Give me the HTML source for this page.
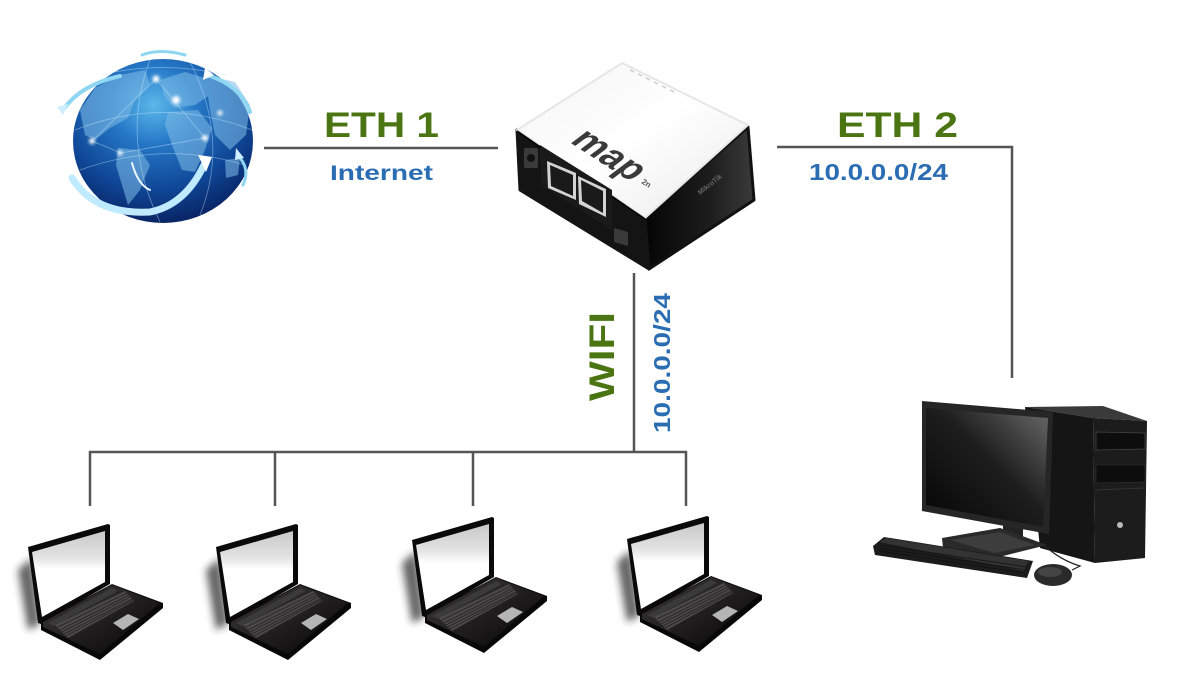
<!DOCTYPE html>
<html><head><meta charset="utf-8"><style>
html,body{margin:0;padding:0;background:#fff;}
svg{display:block;}
text{font-family:"Liberation Sans",Arial,sans-serif;font-weight:bold;}
</style></head><body>
<svg width="1200" height="675" viewBox="0 0 1200 675" xmlns="http://www.w3.org/2000/svg">
<defs>
  <radialGradient id="globeG" cx="0.45" cy="0.28" r="0.8">
    <stop offset="0" stop-color="#5cb8ea"/>
    <stop offset="0.3" stop-color="#2577c6"/>
    <stop offset="0.65" stop-color="#0f4696"/>
    <stop offset="1" stop-color="#061852"/>
  </radialGradient>
  <linearGradient id="topFace" x1="0" y1="0" x2="1" y2="1">
    <stop offset="0" stop-color="#f4f4f4"/>
    <stop offset="0.5" stop-color="#ffffff"/>
    <stop offset="1" stop-color="#e9e9e9"/>
  </linearGradient>
  <linearGradient id="rightFace" x1="0" y1="0" x2="1" y2="0">
    <stop offset="0" stop-color="#050505"/>
    <stop offset="0.6" stop-color="#1d1d1d"/>
    <stop offset="1" stop-color="#3a3a3a"/>
  </linearGradient>
  <linearGradient id="screenG" x1="0" y1="1" x2="1" y2="0">
    <stop offset="0" stop-color="#050505"/>
    <stop offset="0.55" stop-color="#1e1e1e"/>
    <stop offset="1" stop-color="#6a6a6a"/>
  </linearGradient>
  <linearGradient id="lapScreen" x1="0" y1="0" x2="0" y2="1">
    <stop offset="0" stop-color="#c8c8c8"/>
    <stop offset="0.3" stop-color="#e2e2e2"/>
    <stop offset="0.45" stop-color="#ffffff"/>
    <stop offset="1" stop-color="#ffffff"/>
  </linearGradient>
  <linearGradient id="lapBase" x1="0" y1="0" x2="1" y2="1">
    <stop offset="0" stop-color="#3c3a3a"/>
    <stop offset="0.55" stop-color="#1e1c1c"/>
    <stop offset="1" stop-color="#050505"/>
  </linearGradient>
  <filter id="blur4" x="-50%" y="-50%" width="200%" height="200%"><feGaussianBlur stdDeviation="4"/></filter>
  <filter id="blur2" x="-50%" y="-50%" width="200%" height="200%"><feGaussianBlur stdDeviation="1.5"/></filter>
  <g id="laptop">
    <polygon points="-10,20 4,8 12,74 0,80" fill="#222" opacity="0.7" filter="url(#blur4)"/>
    <polygon points="0,-3 80,-26 82,-25 82,34 13,74 10,73" fill="#0a0a0a"/>
    <polygon points="4,2 77,-19 77,32 14,67" fill="url(#lapScreen)"/>
    <polygon points="13,72 84,34 135,53 135,58 72,110 13,80" fill="#080808"/>
    <polygon points="15,72 84,35 132,53 72,104 15,77" fill="url(#lapBase)"/>
    <polygon points="20,73 84,38 90,41 26,76" fill="#3a3a3a"/>
    <polygon points="27,75 97,41 106,51 40,88" fill="#4a4848"/>
    <g stroke="#222" stroke-width="0.8">
      <line x1="30" y1="77" x2="99" y2="43"/>
      <line x1="32" y1="80" x2="101" y2="45"/>
      <line x1="34" y1="82" x2="102" y2="47"/>
      <line x1="36" y1="84" x2="104" y2="49"/>
      <line x1="38" y1="86" x2="105" y2="50"/>
    </g>
    <polygon points="85,73 100,64 111,69 95,80" fill="#b5b5b5"/>
  </g>
</defs>

<!-- connectors -->
<g stroke="#555" stroke-width="2.5" fill="none">
  <line x1="264" y1="148" x2="498" y2="148"/>
  <polyline points="777,147 1012,147 1012,378"/>
  <line x1="634" y1="273" x2="634" y2="452"/>
  <line x1="89" y1="452" x2="687" y2="452"/>
  <line x1="90" y1="451" x2="90" y2="506"/>
  <line x1="275" y1="451" x2="275" y2="506"/>
  <line x1="473" y1="451" x2="473" y2="506"/>
  <line x1="686" y1="451" x2="686" y2="506"/>
</g>

<!-- labels -->
<text x="324" y="137" font-size="35" fill="#4a7512" textLength="115" lengthAdjust="spacingAndGlyphs">ETH 1</text>
<text x="330" y="180" font-size="21" fill="#2a6db2" textLength="103" lengthAdjust="spacingAndGlyphs">Internet</text>
<text x="837" y="137" font-size="35" fill="#4a7512" textLength="121" lengthAdjust="spacingAndGlyphs">ETH 2</text>
<text x="809" y="180" font-size="23" fill="#2a6db2" textLength="139" lengthAdjust="spacingAndGlyphs">10.0.0.0/24</text>
<text transform="translate(614,401) rotate(-90)" font-size="35" fill="#4a7512" textLength="89" lengthAdjust="spacingAndGlyphs">WIFI</text>
<text transform="translate(670,433) rotate(-90)" font-size="23" fill="#2a6db2" textLength="140" lengthAdjust="spacingAndGlyphs">10.0.0.0/24</text>

<!-- globe -->
<g>
  <ellipse cx="163" cy="141" rx="90" ry="82" fill="url(#globeG)"/>
  <g fill="#7fbde8" opacity="0.55">
    <path d="M80,110 L95,88 L120,75 L145,70 L150,85 L135,100 L128,118 L110,128 L95,140 L85,135 Z"/>
    <path d="M118,148 L140,150 L150,165 L140,190 L128,205 L122,185 L116,165 Z"/>
    <path d="M160,80 L185,72 L205,78 L210,95 L195,105 L175,108 L165,98 Z"/>
    <path d="M168,112 L198,110 L212,128 L205,150 L195,172 L182,170 L172,145 L165,125 Z"/>
    <path d="M205,75 L235,82 L250,105 L246,135 L230,150 L215,135 L210,110 Z"/>
    <path d="M225,160 L240,158 L238,175 L226,178 Z"/>
  </g>
  <g fill="none" stroke="#cfefff" stroke-width="0.8" opacity="0.45">
    <path d="M75,130 Q163,95 252,130"/>
    <path d="M80,170 Q163,140 245,165"/>
    <path d="M100,75 Q163,60 225,75"/>
    <path d="M150,60 Q120,140 160,222"/>
    <path d="M190,62 Q230,140 200,215"/>
    <path d="M92,141 L156,79 L205,138 L121,153 Z"/>
  </g>
  <g fill="#fff">
    <circle cx="156" cy="79" r="3.5" filter="url(#blur2)"/>
    <circle cx="176" cy="100" r="4" filter="url(#blur2)"/>
    <circle cx="92" cy="141" r="3" filter="url(#blur2)"/>
    <circle cx="205" cy="138" r="3" filter="url(#blur2)"/>
    <circle cx="120" cy="153" r="2.5" filter="url(#blur2)"/>
    <circle cx="220" cy="113" r="2.5" filter="url(#blur2)"/>
  </g>
  <g fill="none" stroke="#8fd6f2" stroke-linecap="round">
    <path d="M185,55 Q160,48 142,55" stroke-width="3"/>
    <path d="M120,76 Q80,85 63,110" stroke-width="4"/>
    <path d="M207,75 Q240,85 250,112" stroke-width="4"/>
    <path d="M240,158 Q250,170 243,185" stroke-width="3"/>
    <path d="M72,178 Q95,215 150,212 Q185,205 204,165" stroke="#bfeaff" stroke-width="7"/>
    <path d="M132,163 Q138,185 150,190" stroke="#e8f7ff" stroke-width="2"/>
  </g>
  <polygon points="198,155 212,157 206,172" fill="#fff"/>
  <polygon points="57,107 68,104 63,115" fill="#cfeeff"/>
  <polygon points="205,68 214,75 203,80" fill="#fff"/>
  <polygon points="236,148 244,158 235,160" fill="#cfeeff"/>
</g>

<!-- router -->
<g stroke-linejoin="round">
  <polygon points="645,218 748,127 754,200 649,269" fill="url(#rightFace)" stroke="#111" stroke-width="3"/>
  <polygon points="517,130 645,218 649,269 520,190" fill="#141414" stroke="#141414" stroke-width="3"/>
  <polygon points="517,130 622,63 748,125 645,218" fill="url(#topFace)" stroke="#e6e6e6" stroke-width="2"/>
  <polygon points="517,130 645,218 648,222 518,133" fill="#000"/>
  <polygon points="540,145 612,190 612,230 542,186" fill="#1a1a1a"/>
  <rect x="524" y="148" width="14" height="20" rx="2" fill="#3a3a3a"/>
  <circle cx="531" cy="158" r="4" fill="#111"/>
  <polygon points="547,161 576,173 576,200 548,188" fill="#d4d4d4"/>
  <polygon points="550,165 573,175 573,196 551,186" fill="#1a1a1a"/>
  <polygon points="578,176 606,189 606,217 579,204" fill="#d4d4d4"/>
  <polygon points="581,180 603,191 603,213 582,201" fill="#1a1a1a"/>
  <polygon points="614,228 628,232 628,246 614,242" fill="#3a3a3a"/>
  <text transform="translate(600,162) rotate(33) skewX(-20)" font-size="36" fill="#3a3a3a" text-anchor="middle">map</text>
  <text transform="translate(641,183) rotate(33)" font-size="8" fill="#555">2n</text>
  <text transform="translate(700,195) rotate(-38)" font-size="7" fill="#666">MikroTik</text>
  <g stroke="#ccc" stroke-width="1.5">
    <line x1="630" y1="70" x2="634" y2="72"/><line x1="638" y1="74" x2="642" y2="76"/>
    <line x1="646" y1="78" x2="650" y2="80"/><line x1="654" y1="82" x2="658" y2="84"/>
    <line x1="662" y1="86" x2="666" y2="88"/><line x1="670" y1="90" x2="674" y2="92"/>
  </g>
</g>

<!-- PC -->
<g>
  <polygon points="1025,407 1103,406 1147,421 1093,418" fill="#3a3a3a"/>
  <polygon points="1025,407 1093,418 1095,563 1040,548" fill="#151515"/>
  <polygon points="1093,418 1147,421 1145,558 1095,563" fill="#1c1c1c"/>
  <polygon points="1096,432 1145,433 1145,449 1096,450" fill="#0d0d0d" stroke="#444" stroke-width="0.8"/>
  <polygon points="1096,465 1145,465 1145,482 1096,483" fill="#0d0d0d" stroke="#333" stroke-width="0.6"/>
  <line x1="1095" y1="490" x2="1145" y2="488" stroke="#333" stroke-width="1"/>
  <circle cx="1120" cy="525" r="3" fill="#bbb"/>
  <polygon points="1003,525 1023,527 1023,540 1003,538" fill="#222"/>
  <polygon points="942,538 1000,528 1047,545 995,558 943,548" fill="#2a2a2a"/>
  <polygon points="950,540 1000,532 1035,545 995,553" fill="#3d3d3d"/>
  <polygon points="922,401 1053,412 1049,534 922,511" fill="#262626"/>
  <polygon points="926,408 1048,418 1043,527 926,505" fill="url(#screenG)"/>
  <polygon points="873,546 884,537 1033,561 1027,578 875,555" fill="#1c1c1c"/>
  <polygon points="880,542 886,538 1028,561 1024,571" fill="#333"/>
  <g stroke="#111" stroke-width="0.7">
    <line x1="880" y1="545" x2="1027" y2="567"/>
    <line x1="880" y1="548" x2="1026" y2="570"/>
    <line x1="879" y1="551" x2="1025" y2="573"/>
  </g>
  <path d="M1044,545 Q1060,560 1080,566 L1072,570" fill="none" stroke="#222" stroke-width="1.2"/>
  <ellipse cx="1053" cy="575" rx="19" ry="11" fill="#2a2a2a"/>
  <ellipse cx="1050" cy="572" rx="12" ry="5" fill="#444"/>
</g>

<!-- laptops -->
<use href="#laptop" transform="translate(28,550)"/>
<use href="#laptop" transform="translate(216,550)"/>
<use href="#laptop" transform="translate(412,543)"/>
<use href="#laptop" transform="translate(627,542)"/>
</svg>
</body></html>
